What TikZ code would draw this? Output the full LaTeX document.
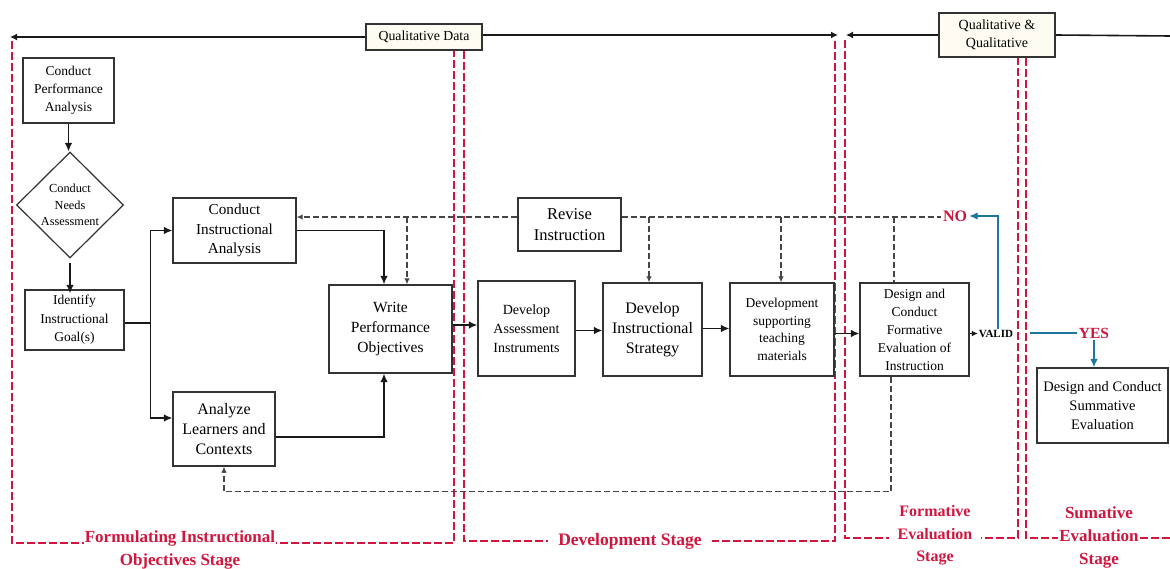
\documentclass[tikz,border=0pt]{standalone}
\usepackage{fontspec}
\setmainfont{Liberation Serif}
\usetikzlibrary{arrows.meta,shapes.geometric}
\definecolor{stagered}{RGB}{208,22,62}
\definecolor{fbblue}{RGB}{30,118,158}
\definecolor{cream}{RGB}{253,251,242}
\definecolor{dgray}{RGB}{70,70,70}
\tikzset{
  box/.style={draw=black!80,line width=1.2pt,align=center,inner sep=1pt,fill=white},
  conn/.style={line width=1.4pt,black!90},
  arr/.style={conn,-{Latex[length=8.5pt,width=7.5pt]}},
  dsh/.style={line width=1.2pt,dgray,dash pattern=on 6pt off 3pt},
  darr/.style={-{Latex[length=6pt,width=5.5pt]}},
  stageline/.style={line width=1.6pt,stagered,dash pattern=on 8pt off 3pt},
  stagelbl/.style={text=stagered,align=center,fill=white},
  bline/.style={line width=1.4pt,fbblue},
  barr/.style={bline,-{Latex[length=8.5pt,width=7.5pt]}},
  topline/.style={line width=1.6pt,black!90},
  toparr/.style={topline,-{Latex[length=7pt,width=7pt]}}
}
\begin{document}
\begin{tikzpicture}[x=1pt,y=-1pt]
\useasboundingbox (0,0) rectangle (1170,569);

% stage frames
\draw[stageline] (12,41) -- (12,543) -- (454,543) -- (454,51);
\draw[stageline] (464,51) -- (464,541) -- (835,541) -- (835,40);
\draw[stageline] (845,40) -- (845,538) -- (1018,538) -- (1018,58);
\draw[stageline] (1026,58) -- (1026,538) -- (1170,538);

% stage labels
\node[stagelbl,font=\fontsize{17}{23}\selectfont\bfseries,inner xsep=1pt,inner ysep=1pt] (s1) at (180,549.5) {Formulating Instructional\\Objectives Stage};
\node[stagelbl,font=\fontsize{17.5}{23}\selectfont\bfseries,inner xsep=10pt,inner ysep=1pt] (s2) at (630,541) {Development Stage};
\node[stagelbl,font=\fontsize{16}{22.5}\selectfont\bfseries,inner xsep=9pt,inner ysep=1pt] (s3) at (935,535.5) {Formative\\Evaluation\\Stage};
\node[stagelbl,font=\fontsize{17}{23}\selectfont\bfseries,inner xsep=1pt,inner ysep=1pt] (s4) at (1099,537) {Sumative\\Evaluation\\Stage};

% top data lines
\node[box,fill=cream,font=\fontsize{13.8}{18}\selectfont,minimum width=116,minimum height=26] (qd) at (424,37) {Qualitative Data};
\node[box,fill=cream,font=\fontsize{14}{18}\selectfont,minimum width=116,minimum height=44] (qq) at (997,35) {Qualitative \&\\Qualitative};
\coordinate (tl1) at (10,37);
\coordinate (tr1) at (838,35);
\coordinate (tl2) at (846,35);
\coordinate (tr2) at (1170,36);
\draw[toparr] (qd.west) -- (tl1);
\draw[toparr] ([yshift=2pt]qd.east) -- (tr1);
\draw[toparr] (qq.west) -- (tl2);
\draw[topline] (qq.east) -- (tr2);

% nodes
\node[box,font=\fontsize{13.5}{18}\selectfont,minimum width=91,minimum height=65] (cpa) at (68.5,90.5) {Conduct\\Performance\\Analysis};
\node[draw=black!80,line width=1.2pt,diamond,aspect=1,minimum width=107,minimum height=106,inner sep=0pt,align=center,font=\fontsize{12.3}{16.5}\selectfont] (cna) at (70,205) {Conduct\\Needs\\Assessment};
\node[box,font=\fontsize{13.5}{18.5}\selectfont,minimum width=99,minimum height=60] (ig) at (74.5,320) {Identify\\Instructional\\Goal(s)};
\node[box,font=\fontsize{15.2}{19.5}\selectfont,minimum width=123,minimum height=65] (cia) at (234.5,230.5) {Conduct\\Instructional\\Analysis};
\node[box,font=\fontsize{16}{20}\selectfont,minimum width=102,minimum height=74] (alc) at (224,429) {Analyze\\Learners and\\Contexts};
\node[box,font=\fontsize{15.5}{20}\selectfont,minimum width=123,minimum height=88] (wpo) at (390.5,329) {Write\\Performance\\Objectives};
\node[box,font=\fontsize{14}{19}\selectfont,minimum width=97,minimum height=95] (dai) at (526.5,328.5) {Develop\\Assessment\\Instruments};
\node[box,font=\fontsize{16}{20}\selectfont,minimum width=99,minimum height=93] (dis) at (652.5,329.5) {Develop\\Instructional\\Strategy};
\node[box,font=\fontsize{13.5}{17.7}\selectfont,minimum width=104,minimum height=93] (dstm) at (782,329.5) {Development\\supporting\\teaching\\materials};
\node[box,font=\fontsize{13.5}{18}\selectfont,minimum width=109,minimum height=93,inner sep=0pt] (dcf) at (914.5,329.5) {Design and\\Conduct\\Formative\\Evaluation of\\Instruction};
\node[box,font=\fontsize{16.5}{21}\selectfont,minimum width=103,minimum height=53] (ri) at (569.5,224.5) {Revise\\Instruction};
\node[box,font=\fontsize{14.5}{19}\selectfont,minimum width=131,minimum height=75] (dcs) at (1102.5,405.5) {Design and Conduct\\Summative\\Evaluation};

\node[font=\fontsize{11}{12}\selectfont\bfseries,inner sep=1pt] (valid) at (996,333.5) {VALID};
\node[text=stagered,font=\fontsize{16}{18}\selectfont\bfseries,inner sep=2pt] (no) at (955,216) {NO};
\node[text=stagered,font=\fontsize{15.5}{18}\selectfont\bfseries,inner sep=2pt] (yes) at (1094,333) {YES};

% main flow
\draw[arr] (cpa.south) -- (cpa.south |- cna.north);
\draw[arr] ([yshift=-4pt]cna.south) -- ([yshift=-4pt]cna.south |- ig.north);
\draw[conn] ([yshift=-3pt]ig.east) -- ++(26,0) coordinate (br);
\draw[arr] (br) |- (cia.west);
\draw[arr] (br) |- ([yshift=11pt]alc.west);
\draw[arr] (cia.east) -| ([xshift=-6.5pt]wpo.north);
\draw[arr] ([yshift=-8pt]alc.east) -| ([xshift=-6.5pt]wpo.south);
\draw[arr] ([yshift=4pt]wpo.east) -- ([yshift=4pt]wpo.east -| dai.west);
\draw[arr] ([yshift=-2pt]dai.east) -- ([yshift=-2pt]dai.east -| dis.west);
\draw[arr] ([yshift=1pt]dis.east) -- ([yshift=1pt]dis.east -| dstm.west);
\draw[arr] ([yshift=-4pt]dstm.east) -- ([yshift=-4pt]dcf.west);
\draw[conn,-{Latex[length=6pt,width=6pt]}] ([yshift=-4pt]dcf.east) -- (valid.west);

% revision feedback (dashed)
\coordinate (rl) at ([yshift=7.5pt]ri.west);
\coordinate (rr) at ([yshift=7.5pt]ri.east);
\draw[dsh,darr] (rl) -- (rl -| cia.east);
\coordinate (j1) at (407,217);
\draw[dsh,darr] (j1) -- (j1 |- wpo.north);
\draw[dsh] (rr) -- (rr -| no.west);
\coordinate (j2) at (649,217);
\coordinate (j3) at (781,217);
\coordinate (j4) at (894,217);
\draw[dsh,darr] (j2) -- (j2 |- dis.north);
\draw[dsh,darr] (j3) -- (j3 |- dstm.north);
\draw[dsh] (j4) -- (j4 |- dcf.north);
\coordinate (j5) at ([xshift=-23.5pt]dcf.south);
\draw[dsh,darr] (j5) -- ++(0,115) -| (alc.south);

% validity decision
\draw[barr] ([xshift=2pt]valid.north) |- (no.east);
\coordinate (ys) at (1030,333);
\draw[bline] (ys) -- (yes.west);
\draw[barr] (yes.south) -- (yes.south |- dcs.north);
\end{tikzpicture}
\end{document}
